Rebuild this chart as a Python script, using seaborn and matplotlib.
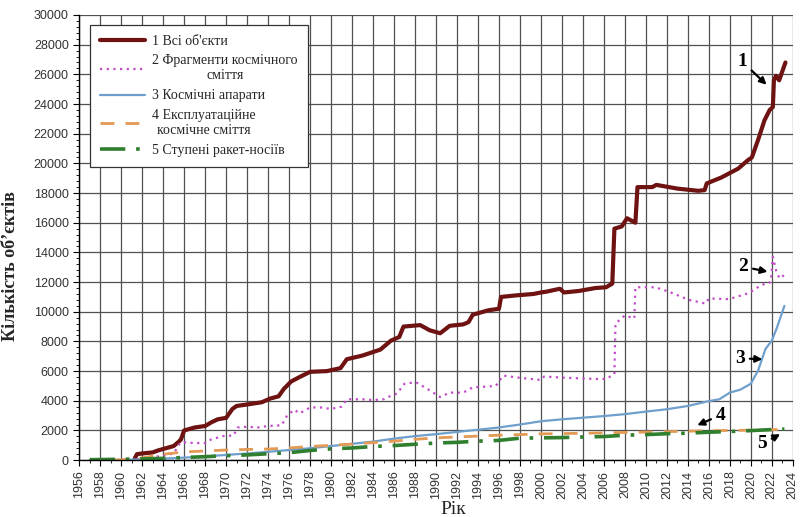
import matplotlib
matplotlib.use("Agg")
import matplotlib.pyplot as plt
from matplotlib.ticker import MultipleLocator
import seaborn as sns
import pandas as pd

# 1 All tracked objects
years_all = [1961.3, 1961.5, 1962, 1963, 1963.5, 1964, 1965, 1965.5, 1965.7, 1966, 1967,
             1968, 1968.6, 1969.2, 1970, 1970.6, 1971, 1972, 1973.4, 1974.2, 1975, 1975.5,
             1976.2, 1977, 1978, 1979.6, 1980.9, 1981.5, 1983, 1984.7, 1985.7, 1986.5,
             1986.9, 1988.5, 1989.4, 1990.4, 1991.3, 1992.6, 1993.1, 1993.5, 1995, 1996,
             1996.2, 1997.6, 1999.3, 2000, 2000.5, 2001.8, 2002.2, 2003.6, 2005.2, 2006.2,
             2006.8, 2007, 2007.7, 2008.2, 2009, 2009.2, 2010.6, 2011, 2013, 2015, 2015.6,
             2015.8, 2017.2, 2018.8, 2019.7, 2020.1, 2020.7, 2021.3, 2021.8, 2022.1, 2022.2,
             2022.4, 2022.7, 2022.9, 2023.3]
count_all = [120, 400, 450, 520, 650, 750, 950, 1250, 1400, 2000, 2200,
             2300, 2550, 2750, 2850, 3450, 3650, 3750, 3900, 4150, 4300, 4800,
             5300, 5600, 5950, 6000, 6200, 6800, 7050, 7450, 8050, 8300,
             9000, 9100, 8750, 8550, 9050, 9150, 9300, 9800, 10100, 10200,
             11000, 11100, 11200, 11300, 11350, 11550, 11300, 11400, 11600, 11650,
             11900, 15600, 15750, 16300, 16000, 18400, 18400, 18550, 18300, 18150, 18200,
             18650, 19050, 19650, 20200, 20400, 21600, 22900, 23600, 23800, 25600,
             25900, 25600, 26000, 26800]

# 2 Fragmentation debris
years_frag = [1961.5, 1962, 1963, 1964, 1965, 1965.6, 1966, 1967, 1968, 1968.6, 1969.9,
              1970.7, 1971.1, 1972, 1973, 1974, 1975.3, 1975.8, 1976.5, 1977, 1978, 1979,
              1980, 1981, 1981.5, 1983, 1984, 1985, 1985.6, 1986.3, 1987, 1988.1, 1989.4,
              1990.4, 1991.3, 1992.6, 1993.5, 1995.7, 1996.4, 1997.6, 2000, 2000.3, 2002.7,
              2005.2, 2006.2, 2007, 2007.1, 2008, 2008.9, 2009, 2010.9, 2012.2, 2014.1,
              2015.7, 2016, 2017.9, 2019.8, 2021, 2021.9, 2022.1, 2022.4, 2022.7, 2023,
              2023.3]
count_frag = [50, 100, 200, 300, 450, 1150, 1200, 1150, 1150, 1400, 1650,
              1650, 2200, 2250, 2200, 2300, 2350, 3000, 3400, 3150, 3550, 3550,
              3450, 3600, 4100, 4100, 4050, 4100, 4300, 4500, 5150, 5250, 4700,
              4250, 4550, 4550, 4900, 5000, 5700, 5580, 5400, 5630, 5540,
              5470, 5470, 5800, 9200, 9750, 9550, 11650, 11650, 11350, 10800,
              10550, 10900, 10850, 11250, 11800, 12000, 13700, 12800, 12300, 12480,
              12200]

# 3 Spacecraft
years_sc = [1957, 1960, 1962, 1964, 1966, 1968, 1970, 1972, 1974, 1976, 1978, 1980,
            1982, 1984, 1986, 1988, 1990, 1992, 1994, 1996, 1998, 2000, 2002, 2004,
            2006, 2008, 2010, 2012, 2014, 2016, 2017, 2018, 2019, 2020, 2020.7, 2021.4,
            2022, 2022.5, 2023.2]
count_sc = [0, 20, 50, 100, 170, 250, 350, 450, 560, 680, 800, 950,
            1100, 1250, 1450, 1620, 1750, 1900, 2050, 2200, 2400, 2620, 2750, 2860,
            2970, 3100, 3270, 3430, 3650, 3980, 4100, 4550, 4750, 5150, 6050, 7500,
            8050, 8950, 10400]

# 4 Mission-related debris
years_mrd = [1957, 1960, 1962, 1964, 1966, 1968, 1970, 1972, 1974, 1976, 1978, 1980,
             1982, 1984, 1986, 1988, 1990, 1992, 1994, 1996, 1998, 2000, 2002, 2004,
             2006, 2008, 2010, 2012, 2014, 2016, 2018, 2020, 2022, 2023.2]
count_mrd = [0, 20, 150, 400, 550, 620, 680, 720, 750, 820, 920, 1000,
             1080, 1180, 1280, 1400, 1500, 1560, 1620, 1680, 1720, 1770, 1790, 1810,
             1840, 1870, 1890, 1920, 1950, 1980, 2000, 2020, 2050, 2070]

# 5 Rocket bodies
years_rb = [1957, 1960, 1962, 1964, 1966, 1968, 1970, 1972, 1974, 1976, 1978, 1980,
            1982, 1984, 1986, 1988, 1990, 1992, 1994, 1996, 1998, 2000, 2002, 2004,
            2006, 2008, 2010, 2012, 2014, 2016, 2018, 2020, 2022, 2023.2]
count_rb = [30, 60, 80, 120, 180, 230, 300, 350, 430, 500, 650, 760,
            820, 920, 980, 1070, 1150, 1200, 1280, 1330, 1480, 1500, 1520, 1560,
            1590, 1680, 1720, 1780, 1820, 1880, 1930, 1990, 2060, 2090]

labels = ["1 Всі об'єкти",
          "2 Фрагменти космічного\nсміття",
          "3 Космічні апарати",
          "4 Експлуатаційне\nкосмічне сміття",
          "5 Ступені ракет-носіїв"]

sns.set_theme(style="white")
plt.rcParams["font.family"] = ["Liberation Sans", "DejaVu Sans"]

fig = plt.figure(figsize=(8.0, 5.17), dpi=100)
ax = fig.add_axes([0.099, 0.110, 0.892, 0.861])

series = [
    (years_all, count_all, dict(color="#6e1212", lw=3.0, ls="-")),
    (years_frag, count_frag, dict(color="#c24cc8", lw=1.6, ls=(0, (1, 2)))),
    (years_sc, count_sc, dict(color="#6f9fcc", lw=1.6, ls="-")),
    (years_mrd, count_mrd, dict(color="#e39a55", lw=2.0, ls=(0, (5, 4)))),
    (years_rb, count_rb, dict(color="#2f7f2f", lw=2.6, ls=(0, (7, 3, 1, 3)))),
]

for (xs, ys, st), lab in zip(series, labels):
    df = pd.DataFrame({"Рік": xs, "n": ys})
    sns.lineplot(data=df, x="Рік", y="n", ax=ax, estimator=None, sort=False,
                 color=st["color"], linewidth=st["lw"], linestyle=st["ls"], label=lab)

ax.set_xlim(1956, 2024)
ax.set_ylim(0, 30000)
ax.xaxis.set_major_locator(MultipleLocator(2))
ax.xaxis.set_minor_locator(MultipleLocator(1))
ax.yaxis.set_major_locator(MultipleLocator(2000))
ax.yaxis.set_minor_locator(MultipleLocator(400))
ax.grid(True, which="major", color="#505050", linewidth=0.9)
ax.set_axisbelow(True)
for side in ["left", "bottom"]:
    ax.spines[side].set_color("black")
    ax.spines[side].set_linewidth(1.0)
for side in ["top", "right"]:
    ax.spines[side].set_visible(False)

ax.tick_params(axis="both", which="major", direction="out", length=4, width=0.8,
               color="black", labelsize=9, labelcolor="#333333", left=True, bottom=True)
ax.tick_params(axis="both", which="minor", direction="out", length=2.5, width=0.6,
               color="black", left=True, bottom=True)
plt.setp(ax.get_xticklabels(), rotation=90)

ax.set_xlabel("Рік", family=["Liberation Serif", "DejaVu Serif"], fontsize=14)
ax.set_ylabel("Кількість об’єктів", family=["Liberation Serif", "DejaVu Serif"],
              fontsize=13, fontweight="bold")
ax.xaxis.set_label_coords(0.524, -0.092)
ax.yaxis.set_label_coords(-0.085, 0.435)

leg = ax.legend(loc="upper left", bbox_to_anchor=(0.015, 0.978), borderaxespad=0,
                prop={"family": ["Liberation Serif", "DejaVu Serif"], "size": 10},
                frameon=True, fancybox=False, edgecolor="#333333", framealpha=1,
                handlelength=3.3, handletextpad=0.5, labelspacing=0.5,
                borderpad=0.7)
leg.get_frame().set_linewidth(0.9)
for t in leg.get_texts():
    t.set_multialignment("center")

ann_font = dict(family=["Liberation Serif", "DejaVu Serif"], fontsize=14,
                fontweight="bold", color="black")
arrow = dict(arrowstyle="-|>", color="black", lw=1.6, mutation_scale=10,
             shrinkA=1, shrinkB=0)
ax.annotate("1", xy=(2021.5, 25300), xytext=(2019.2, 26850),
            ha="center", va="center", arrowprops=arrow, **ann_font)
ax.annotate("2", xy=(2021.6, 12700), xytext=(2019.3, 13030),
            ha="center", va="center", arrowprops=arrow, **ann_font)
ax.annotate("3", xy=(2021.1, 6800), xytext=(2019.0, 6860),
            ha="center", va="center", arrowprops=arrow, **ann_font)
ax.annotate("4", xy=(2014.9, 2350), xytext=(2017.1, 3030),
            ha="center", va="center", arrowprops=arrow, **ann_font)
ax.annotate("5", xy=(2022.8, 1750), xytext=(2021.1, 1100),
            ha="center", va="center", arrowprops=arrow, **ann_font)

fig.savefig("out.png", dpi=100, facecolor="white")
